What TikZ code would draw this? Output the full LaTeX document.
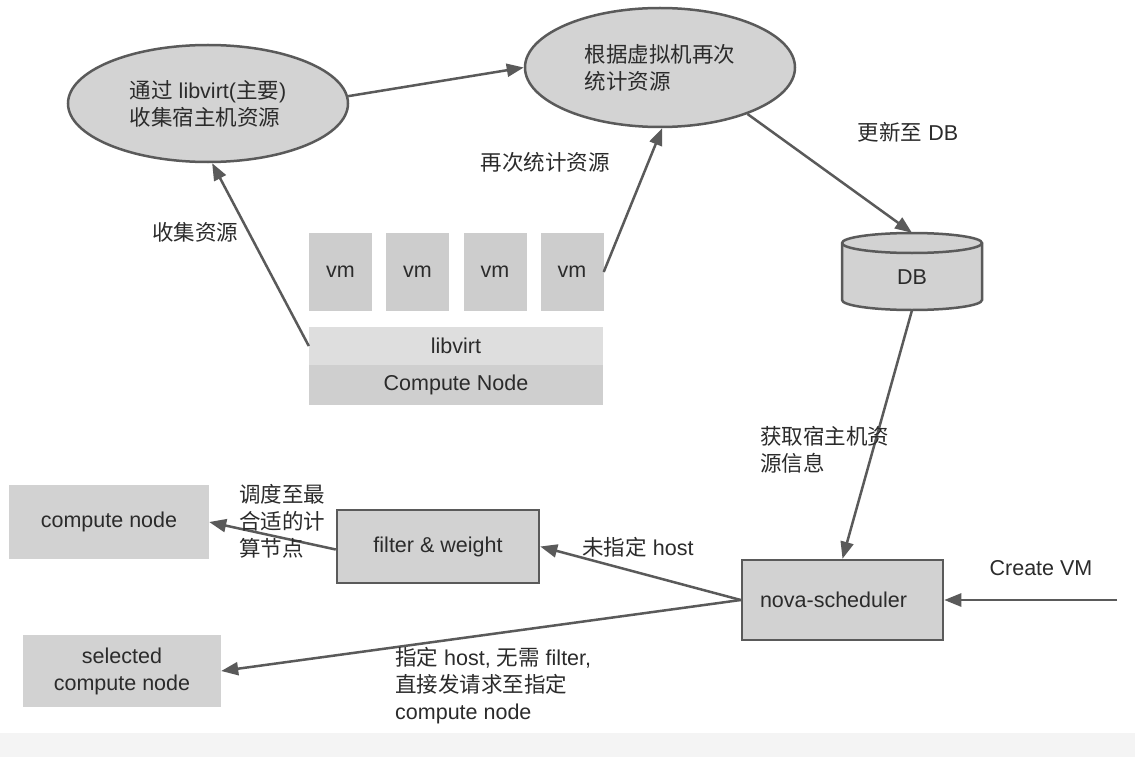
\documentclass[tikz,border=0pt]{standalone}
\usepackage{fontspec}
\setmainfont{Liberation Sans}
\newfontfamily\cjk{Noto Sans CJK SC}
\newcommand{\zh}[1]{{\cjk #1}}
\usetikzlibrary{arrows.meta,shapes.geometric}
\definecolor{edgec}{HTML}{5A5A5A}
\definecolor{txtc}{HTML}{2B2B2B}
\definecolor{ellfill}{HTML}{D3D3D3}
\definecolor{boxfill}{HTML}{D2D2D2}
\definecolor{vmfill}{HTML}{CDCDCD}
\definecolor{libfill}{HTML}{DEDEDE}
\definecolor{cnfill}{HTML}{CFCFCF}
\definecolor{bandc}{HTML}{F4F4F4}
\begin{document}
\begin{tikzpicture}[x=1pt,y=-1pt,
  every node/.style={text=txtc, font=\fontsize{21.5}{27}\selectfont},
  ell/.style={ellipse, draw=edgec, line width=2.5pt, fill=ellfill, inner sep=0pt, align=left},
  bordered/.style={rectangle, draw=edgec, line width=2.5pt, fill=boxfill, inner sep=0pt},
  plainbox/.style={rectangle, fill=boxfill, inner sep=0pt, align=center},
  vmbox/.style={rectangle, fill=vmfill, inner sep=0pt, minimum width=63pt, minimum height=78pt},
  flow/.style={draw=edgec, line width=2.5pt, -{Triangle[length=17pt,width=13pt]}},
  lbl/.style={inner sep=0pt, align=left}]
\fill[white] (0,0) rectangle (1135,757);
\fill[bandc] (0,733) rectangle (1135,757);

% ellipses
\node[ell, minimum width=280pt, minimum height=117pt] (e1) at (208,103.5) {\zh{通过} libvirt(\zh{主要})\\\zh{收集宿主机资源}};
\node[ell, minimum width=270pt, minimum height=119pt] (e2) at (660,67.5) {\zh{根据虚拟机再次}\\\zh{统计资源}};

% compute node stack
\node[vmbox] (vm1) at (340.5,272) {vm};
\node[vmbox] (vm2) at (417.5,272) {vm};
\node[vmbox] (vm3) at (495,272) {vm};
\node[vmbox] (vm4) at (572,272) {vm};
\node[rectangle, fill=libfill, inner sep=0pt, minimum width=294pt, minimum height=38pt] (libvirt) at (456,346) {libvirt};
\node[rectangle, fill=cnfill, inner sep=0pt, minimum width=294pt, minimum height=40pt] (cnode) at (456,385) {Compute Node};

% DB cylinder
\path[draw=edgec, line width=2.5pt, fill=boxfill] (842,243) -- (842,300)
  arc[start angle=180, end angle=0, x radius=70, y radius=10] -- (982,243)
  arc[start angle=0, end angle=-180, x radius=70, y radius=10] -- cycle;
\draw[edgec, line width=2.5pt] (842,243) arc[start angle=180, end angle=0, x radius=70, y radius=10];
\node[inner sep=0pt, minimum width=140pt, minimum height=49pt] (db) at (912,277.5) {DB};

% lower boxes
\node[bordered, minimum width=201pt, minimum height=80pt] (nova) at (842.5,600) {nova-scheduler\hspace*{18pt}};
\node[bordered, minimum width=202pt, minimum height=73pt] (filter) at (438,546.5) {filter \& weight};
\node[plainbox, minimum width=200pt, minimum height=74pt] (cn) at (109,522) {compute node};
\node[plainbox, minimum width=198pt, minimum height=72pt] (sel) at (122,671) {selected\\compute node};
\coordinate (cv) at (1117,600);

% connectors
\draw[flow] (e1.3) -- (e2.west);
\draw[flow] (libvirt.west) -- (e1.-86);
\draw[flow] (vm4.east) -- (e2.-88);
\draw[flow] (e2.-28) -- ([yshift=20pt]db.north);
\draw[flow] ([yshift=-8pt]db.south) -- (nova.north);
\draw[flow] (cv) -- (nova.east);
\draw[flow] (nova.west) -- (filter.east);
\draw[flow] (nova.west) -- (sel.east);
\draw[flow] ([yshift=-3pt]filter.west) -- (cn.east);

% labels
\node[lbl] at (195,232) {\zh{收集资源}};
\node[lbl] at (545,162) {\zh{再次统计资源}};
\node[lbl] at (908,132) {\zh{更新至} DB};
\node[lbl, anchor=west] at (760,450) {\zh{获取宿主机资}\\\zh{源信息}};
\node[lbl] at (638,547) {\zh{未指定} host};
\node[lbl] at (1041,568) {Create VM};
\node[lbl, anchor=west] at (239,521.5) {\zh{调度至最}\\\zh{合适的计}\\\zh{算节点}};
\node[lbl, anchor=west] at (395,685.5) {\zh{指定} host, \zh{无需} filter,\\\zh{直接发请求至指定}\\compute node};
\end{tikzpicture}
\end{document}
